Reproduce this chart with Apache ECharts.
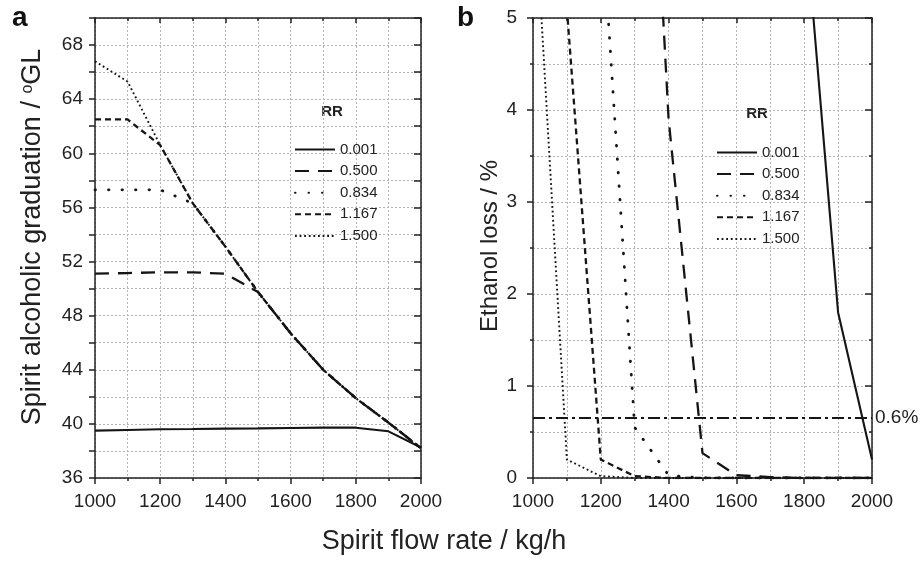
<!DOCTYPE html>
<html><head><meta charset="utf-8">
<script src="https://cdn.jsdelivr.net/npm/echarts@6/dist/echarts.min.js"></script>
<style>html,body{margin:0;padding:0;background:#fff}#c{width:920px;height:562px}</style>
</head><body><div id="c"></div>
<script>
// ---- data ----
const flowRate = [1000, 1100, 1200, 1300, 1400, 1500, 1600, 1700, 1800, 1900, 2000];
const rrNames = ['0.001', '0.500', '0.834', '1.167', '1.500'];

// panel a: spirit alcoholic graduation (°GL)
const gradRR0001 = [39.5, 39.55, 39.6, 39.62, 39.65, 39.67, 39.7, 39.72, 39.72, 39.45, 38.25];
const gradRR0500 = [51.1, 51.15, 51.2, 51.2, 51.1, 49.75, 46.7, 44.0, 41.9, 40.1, 38.2];
const gradRR0834 = [57.3, 57.3, 57.3, 56.3, 53.1, 49.75, 46.7, 44.0, 41.9, 40.1, 38.2];
const gradRR1167 = [62.5, 62.5, 60.6, 56.3, 53.1, 49.75, 46.7, 44.0, 41.9, 40.1, 38.2];
const gradRR1500 = [66.8, 65.3, 60.6, 56.3, 53.1, 49.75, 46.7, 44.0, 41.9, 40.1, 38.2];

// panel b: ethanol loss (%) ; null = off the chart (unknown)
const lossRR0001 = [null, null, null, null, null, null, null, null, 6.2, 1.8, 0.2];
const lossRR0500 = [null, null, null, 10.8, 3.9, 0.27, 0.03, 0.01, 0, 0, 0];
const lossRR0834 = [null, null, 6.25, 0.55, 0.03, 0, 0, 0, 0, 0, 0];
const lossRR1167 = [null, 5.1, 0.2, 0.02, 0, 0, 0, 0, 0, 0, 0];
const lossRR1500 = [6.6, 0.2, 0.02, 0, 0, 0, 0, 0, 0, 0, 0];

const lossLimit = 0.65;
const lossLimitLabel = '0.6%';

// ---- styles ----
const FONT = 'Liberation Sans, Arial, Helvetica, sans-serif';
const INK = '#151515';
const lineStyles = [
  { type: 'solid', width: 2.1 },
  { type: [14, 9], width: 2.3 },
  { type: [0.5, 13], width: 2.8, cap: 'round' },
  { type: [6, 4], width: 2.3 },
  { type: [1.8, 2.8], width: 1.9 }
];
const gridLine = { show: true, lineStyle: { color: '#b4b4b4', type: [2, 2], width: 1 } };
const axisLineStyle = { color: '#222', width: 1.5 };

function xPair(gi) {
  const base = { type: 'value', gridIndex: gi, min: 1000, max: 2000, interval: 200 };
  return [
    Object.assign({}, base, {
      position: 'bottom',
      axisLine: { show: true, onZero: false, lineStyle: axisLineStyle },
      axisTick: { show: true, inside: false, length: 6, lineStyle: axisLineStyle },
      minorTick: { show: true, splitNumber: 2, length: 3, lineStyle: axisLineStyle },
      splitLine: gridLine, minorSplitLine: gridLine,
      axisLabel: { fontSize: 19, color: '#222', margin: 14, fontFamily: FONT, formatter: v => String(v) }
    }),
    Object.assign({}, base, {
      position: 'top',
      axisLine: { show: true, onZero: false, lineStyle: axisLineStyle },
      axisTick: { show: true, inside: true, length: 5, lineStyle: axisLineStyle },
      minorTick: { show: true, splitNumber: 2, length: 3, lineStyle: axisLineStyle },
      splitLine: { show: false }, axisLabel: { show: false }
    })
  ];
}

const yAxes = [
  { type: 'value', gridIndex: 0, position: 'left', min: 36, max: 70, interval: 2,
    axisLine: { show: true, onZero: false, lineStyle: axisLineStyle },
    axisTick: { show: true, inside: false, length: 6, lineStyle: axisLineStyle },
    splitLine: gridLine,
    axisLabel: { fontSize: 19, color: '#222', margin: 12, fontFamily: FONT,
      formatter: v => (v % 4 === 0 ? String(v) : '') } },
  { type: 'value', gridIndex: 0, position: 'right', min: 36, max: 70, interval: 2,
    axisLine: { show: true, onZero: false, lineStyle: axisLineStyle },
    axisTick: { show: true, inside: true, length: 7, lineStyle: axisLineStyle },
    splitLine: { show: false }, axisLabel: { show: false } },
  { type: 'value', gridIndex: 1, position: 'left', min: 0, max: 5, interval: 1,
    axisLine: { show: true, onZero: false, lineStyle: axisLineStyle },
    axisTick: { show: true, inside: false, length: 6, lineStyle: axisLineStyle },
    minorTick: { show: true, splitNumber: 2, length: 3, lineStyle: axisLineStyle },
    splitLine: gridLine, minorSplitLine: gridLine,
    axisLabel: { fontSize: 19, color: '#222', margin: 16, fontFamily: FONT } },
  { type: 'value', gridIndex: 1, position: 'right', min: 0, max: 5, interval: 1,
    axisLine: { show: true, onZero: false, lineStyle: axisLineStyle },
    axisTick: { show: true, inside: true, length: 7, lineStyle: axisLineStyle },
    minorTick: { show: true, splitNumber: 2, length: 3, lineStyle: axisLineStyle },
    splitLine: { show: false }, axisLabel: { show: false } }
];

const gradData = [gradRR0001, gradRR0500, gradRR0834, gradRR1167, gradRR1500];
const lossData = [lossRR0001, lossRR0500, lossRR0834, lossRR1167, lossRR1500];

const series = [];
gradData.forEach((arr, i) => {
  series.push({
    type: 'line', name: rrNames[i], xAxisIndex: 0, yAxisIndex: 0,
    data: flowRate.map((x, k) => [x, arr[k]]),
    symbol: 'none', legendIcon: 'none', color: INK, lineStyle: Object.assign({ color: INK }, lineStyles[i]),
    z: 3
  });
});
lossData.forEach((arr, i) => {
  const s = {
    type: 'line', name: rrNames[i], xAxisIndex: 2, yAxisIndex: 2,
    data: flowRate.map((x, k) => [x, arr[k]]),
    symbol: 'none', legendIcon: 'none', color: INK, lineStyle: Object.assign({ color: INK }, lineStyles[i]),
    clip: true, z: 3
  };
  if (i === 0) {
    s.markLine = {
      silent: true, symbol: 'none', animation: false,
      data: [{ yAxis: lossLimit }],
      lineStyle: { color: INK, type: [12, 4, 3, 4], width: 2 },
      label: { show: true, position: 'end', formatter: lossLimitLabel,
        fontSize: 19, color: '#222', distance: 3, fontFamily: FONT }
    };
  }
  series.push(s);
});

const legendBase = {
  orient: 'vertical', data: rrNames, itemWidth: 40, itemHeight: 14, itemGap: 6.6,
  itemStyle: { opacity: 0 },
  textStyle: { fontSize: 15, color: '#222', fontFamily: FONT }, selectedMode: false
};

const option = {
  animation: false,
  textStyle: { fontFamily: FONT },
  grid: [
    { left: 95, top: 18, width: 326, height: 460, containLabel: false },
    { left: 533, top: 18, width: 339, height: 460, containLabel: false }
  ],
  xAxis: [].concat(xPair(0), xPair(1)),
  yAxis: yAxes,
  legend: [
    Object.assign({ left: 289, top: 137 }, legendBase),
    Object.assign({ left: 711, top: 140 }, legendBase)
  ],
  graphic: [
    { type: 'text', x: 12, y: 4, style: { text: 'a', fontSize: 28, fontWeight: 'bold', fill: '#111', fontFamily: FONT } },
    { type: 'text', x: 457, y: 4, style: { text: 'b', fontSize: 28, fontWeight: 'bold', fill: '#111', fontFamily: FONT } },
    { type: 'text', x: 332, y: 112, style: { text: 'RR', fontSize: 15, fontWeight: 'bold', fill: '#222', align: 'center', verticalAlign: 'middle', fontFamily: FONT } },
    { type: 'text', x: 757, y: 114, style: { text: 'RR', fontSize: 15, fontWeight: 'bold', fill: '#222', align: 'center', verticalAlign: 'middle', fontFamily: FONT } },
    { type: 'text', x: 33, y: 237, rotation: Math.PI / 2,
      style: { text: '{n|Spirit alcoholic graduation / }{s|o}{n|GL}', align: 'center', verticalAlign: 'middle', fill: '#222',
        rich: { n: { fontSize: 27, fontFamily: FONT, fill: '#222', verticalAlign: 'bottom' },
                s: { fontSize: 16, fontFamily: FONT, fill: '#222', verticalAlign: 'top' } } } },
    { type: 'text', x: 490, y: 246, rotation: Math.PI / 2,
      style: { text: 'Ethanol loss / %', fontSize: 24, fill: '#222', align: 'center', verticalAlign: 'middle', fontFamily: FONT } },
    { type: 'text', x: 444, y: 542,
      style: { text: 'Spirit flow rate / kg/h', fontSize: 27, fill: '#222', align: 'center', verticalAlign: 'middle', fontFamily: FONT } }
  ],
  series: series
};

const chart = echarts.init(document.getElementById('c'), null, { renderer: 'canvas' });
chart.setOption(option);
</script>
</body></html>
